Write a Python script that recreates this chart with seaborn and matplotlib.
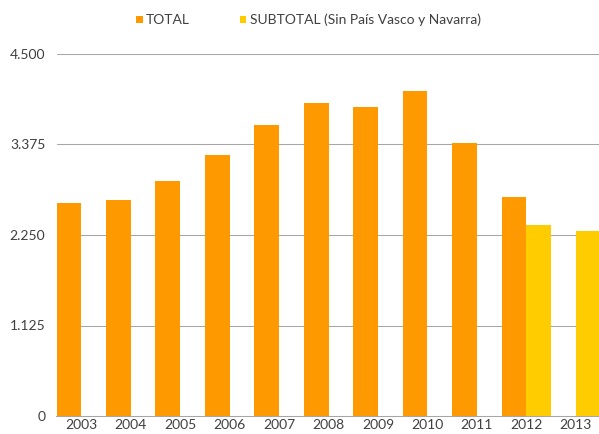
import matplotlib
matplotlib.use("Agg")
import matplotlib.pyplot as plt
import matplotlib.ticker as mticker
import seaborn as sns
import pandas as pd
import numpy as np

years = ["2003", "2004", "2005", "2006", "2007", "2008", "2009", "2010", "2011", "2012", "2013"]
total = [2648, 2685, 2921, 3245, 3617, 3891, 3841, 4040, 3394, 2722, np.nan]
subtotal = [np.nan] * 9 + [2374, 2300]
series_names = ["TOTAL", "SUBTOTAL (Sin País Vasco y Navarra)"]
yticks = [0, 1125, 2250, 3375, 4500]

df = pd.DataFrame({
    "year": years * 2,
    "value": total + subtotal,
    "serie": [series_names[0]] * len(years) + [series_names[1]] * len(years),
})

sns.set_theme(style="white")
plt.rcParams["font.family"] = ["Lato", "DejaVu Sans"]

fig = plt.figure(figsize=(5.99, 4.34), dpi=100)
ax = fig.add_axes([56.5 / 599, 18 / 434, 544 / 599, 362 / 434])

sns.barplot(data=df, x="year", y="value", hue="serie", order=years,
            hue_order=series_names, palette=["#FF9900", "#FFCC00"],
            width=1.0, gap=0, linewidth=0, saturation=1, ax=ax, legend=True)

ax.set_ylim(0, 4500)
ax.set_xlim(-0.5, 10.5)
ax.set_yticks(yticks)
ax.yaxis.set_major_formatter(mticker.FuncFormatter(lambda v, p: f"{int(v):,}".replace(",", ".")))
ax.grid(axis="y", color="#A6A6A6", linewidth=0.75)
ax.set_axisbelow(True)
for s in ["top", "right", "left"]:
    ax.spines[s].set_visible(False)
ax.spines["bottom"].set_color("#A6A6A6")
ax.spines["bottom"].set_linewidth(0.75)
ax.tick_params(axis="both", length=0, labelsize=10, colors="#404040")
ax.tick_params(axis="y", pad=8)
ax.tick_params(axis="x", pad=2.5)
ax.set_xlabel("")
ax.set_ylabel("")

handles, labels = ax.get_legend_handles_labels()
ax.get_legend().remove()
fig.legend(handles, labels, loc="center", bbox_to_anchor=(0.515, 1 - 20 / 434), ncol=2,
           frameon=False, fontsize=10, handlelength=0.45, handleheight=0.45,
           handletextpad=0.25, columnspacing=3.6, labelcolor="#404040")

fig.savefig("out.png", dpi=100)
